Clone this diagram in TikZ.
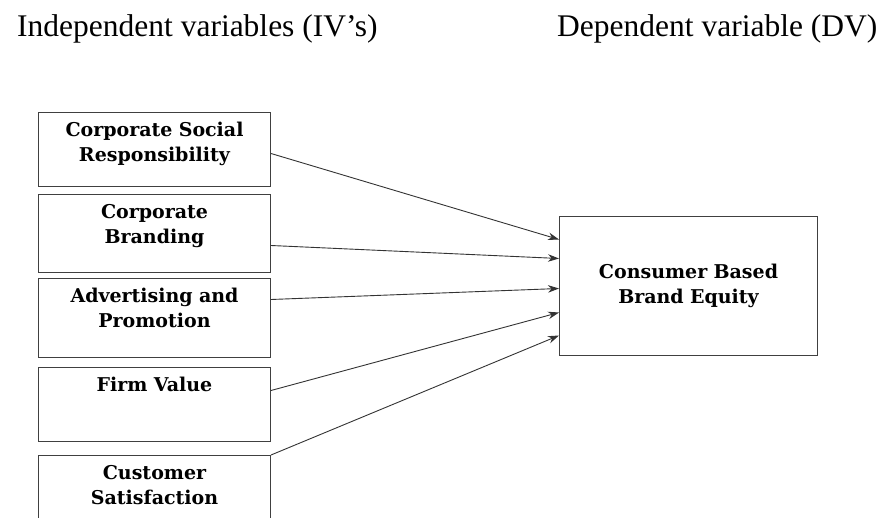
\documentclass[tikz,border=0pt]{standalone}
\usepackage{fontspec}
\setmainfont{Liberation Serif}
\newfontfamily\boxfont{DejaVu Serif}
\usetikzlibrary{arrows.meta, positioning}
\tikzstyle{heading} = [anchor=base west, inner sep=0pt, font=\fontsize{31.5}{36}\selectfont]
\tikzstyle{process} = [rectangle, inner sep=0pt, text width=232pt, align=center, text height=24pt, draw=black!75, line width=1pt, font=\boxfont\bfseries\fontsize{19}{25}\selectfont]
\tikzstyle{arrow} = [draw=black!80, line width=0.9pt, -{Stealth[length=11pt,width=7.5pt]}]

\begin{document}
\begin{tikzpicture}[x=1pt, y=1pt]
    \clip (0,0) rectangle (883,-518);
    \node (ivhead) [heading] at (17,-37) {Independent variables (IV’s)};
    \node (dvhead) [heading] at (557,-37) {Dependent variable (DV)};
    \node (csr) [process, anchor=north west, text depth=50pt] at (38,-112) {Corporate Social\\Responsibility};
    \node (brand) [process, below=7pt of csr, text depth=54pt] {Corporate\\Branding};
    \node (advert) [process, below=5pt of brand, text depth=55pt] {Advertising and\\Promotion};
    \node (firm) [process, below=9pt of advert, text depth=50pt] {Firm Value};
    \node (satis) [process, below=13pt of firm, text depth=60pt] {Customer\\Satisfaction};
    \node (cbbe) [process, anchor=north west, text width=258pt, text height=62pt, text depth=77pt] at (559,-216) {Consumer Based\\Brand Equity};
    \draw [arrow] ([yshift=-4pt]csr.east) -- ([yshift=46.5pt]cbbe.west);
    \draw [arrow] ([yshift=-12pt]brand.east) -- ([yshift=27.5pt]cbbe.west);
    \draw [arrow] ([yshift=18.5pt]advert.east) -- ([yshift=-2.5pt]cbbe.west);
    \draw [arrow] ([yshift=14pt]firm.east) -- ([yshift=-26.5pt]cbbe.west);
    \draw [arrow] (satis.north east) -- ([yshift=-49.5pt]cbbe.west);
\end{tikzpicture}
\end{document}
